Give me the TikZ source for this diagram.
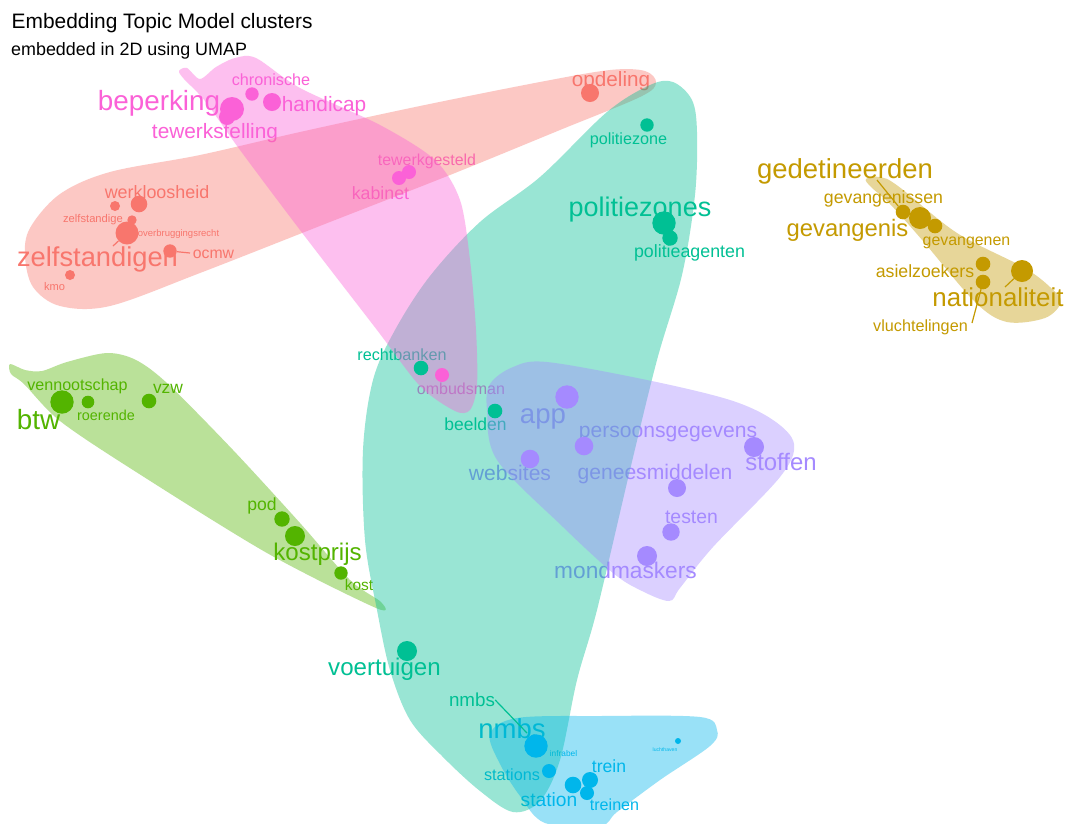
\documentclass[tikz,border=0pt]{standalone}
\usepackage{fontspec}
\setmainfont{Liberation Sans}
\definecolor{cred}{HTML}{F8766D}
\definecolor{cyel}{HTML}{C49A00}
\definecolor{cgreen}{HTML}{53B400}
\definecolor{cteal}{HTML}{00C094}
\definecolor{cblue}{HTML}{00B6EB}
\definecolor{cpurple}{HTML}{A58AFF}
\definecolor{cpink}{HTML}{FB61D7}
\begin{document}
\begin{tikzpicture}[x=1pt,y=-1pt,
  lbl/.style={anchor=base, inner sep=0pt, font=\fontsize{#1pt}{#1pt}\selectfont},
  pnt/.style={circle, inner sep=0pt, minimum size=#1, draw=none},
  hull/.style={fill=#1, fill opacity=0.4, draw=none},
  seg/.style={draw=#1, line width=1.2pt}]
\useasboundingbox[fill=white] (0,0) rectangle (1069,823);

% ---------- titles ----------
\node[lbl=20.9, anchor=base west] (title) at (11.5,28.3) {Embedding Topic Model clusters};
\node[lbl=17.9, anchor=base west] (subtitle) at (11,55) {embedded in 2D using UMAP};

% ---------- word labels (under the hulls) ----------
% cluster 1
\node[lbl=20.7, text=cred] (l-opdeling) at (611,86.7) {opdeling};
\node[lbl=17.9, text=cred] (l-werkloosheid) at (157,198) {werkloosheid};
\node[lbl=11.2, text=cred] (l-zelfstandige) at (93,222.7) {zelfstandige};
\node[lbl=9.5, text=cred] (l-overbrugging) at (178.5,236) {overbruggingsrecht};
\node[lbl=27.3, text=cred] (l-zelfstandigen) at (97.5,266.7) {zelfstandigen};
\node[lbl=15.8, text=cred] (l-ocmw) at (213.5,258) {ocmw};
\node[lbl=11.1, text=cred] (l-kmo) at (54.5,290) {kmo};
% cluster 7
\node[lbl=27.8, text=cpink] (l-beperking) at (159,110.7) {beperking};
\node[lbl=16.2, text=cpink] (l-chronische) at (271,85) {chronische};
\node[lbl=20.8, text=cpink] (l-handicap) at (324,111.7) {handicap};
\node[lbl=20.8, text=cpink] (l-tewerkstelling) at (215,138.3) {tewerkstelling};
\node[lbl=15.9, text=cpink] (l-tewerkgesteld) at (427,165) {tewerkgesteld};
\node[lbl=17.8, text=cpink] (l-kabinet) at (380.5,199.3) {kabinet};
\node[lbl=16, text=cpink] (l-ombudsman) at (461,394) {ombudsman};
% cluster 4
\node[lbl=16.2, text=cteal] (l-politiezone) at (628.5,144) {politiezone};
\node[lbl=27, text=cteal] (l-politiezones) at (640,216) {politiezones};
\node[lbl=17.8, text=cteal] (l-politieagenten) at (689.5,257) {politieagenten};
\node[lbl=16.2, text=cteal] (l-rechtbanken) at (402,360) {rechtbanken};
\node[lbl=17.5, text=cteal] (l-beelden) at (475.5,430.7) {beelden};
\node[lbl=24.1, text=cteal] (l-voertuigen) at (384.5,675) {voertuigen};
\node[lbl=18.8, text=cteal] (l-nmbs-t) at (472,706.7) {nmbs};
% cluster 2
\node[lbl=27.5, text=cyel] (l-gedetineerden) at (845,178.3) {gedetineerden};
\node[lbl=17.7, text=cyel] (l-gevangenissen) at (883.5,203.3) {gevangenissen};
\node[lbl=23.8, text=cyel] (l-gevangenis) at (847.5,236) {gevangenis};
\node[lbl=15.9, text=cyel] (l-gevangenen) at (966.5,245) {gevangenen};
\node[lbl=17.7, text=cyel] (l-asielzoekers) at (925,277.3) {asielzoekers};
\node[lbl=25.9, text=cyel] (l-nationaliteit) at (998,306.7) {nationaliteit};
\node[lbl=16.2, text=cyel] (l-vluchtelingen) at (920.5,331.7) {vluchtelingen};
% cluster 3
\node[lbl=27.8, text=cgreen] (l-btw) at (38.5,429.3) {btw};
\node[lbl=16.1, text=cgreen] (l-vennootschap) at (77.5,390) {vennootschap};
\node[lbl=14.4, text=cgreen] (l-roerende) at (106,420) {roerende};
\node[lbl=17.4, text=cgreen] (l-vzw) at (168,393.3) {vzw};
\node[lbl=17.6, text=cgreen] (l-pod) at (262,510) {pod};
\node[lbl=24.1, text=cgreen] (l-kostprijs) at (317.5,560) {kostprijs};
\node[lbl=15.5, text=cgreen] (l-kost) at (359,590.7) {kost};
% cluster 6
\node[lbl=27.6, text=cpurple] (l-app) at (543,423.3) {app};
\node[lbl=21.1, text=cpurple] (l-persoons) at (668,437.3) {persoonsgegevens};
\node[lbl=21.1, text=cpurple] (l-websites) at (510,480) {websites};
\node[lbl=21.1, text=cpurple] (l-genees) at (655,479) {geneesmiddelen};
\node[lbl=23.9, text=cpurple] (l-stoffen) at (781,470) {stoffen};
\node[lbl=19.4, text=cpurple] (l-testen) at (691.5,523.3) {testen};
\node[lbl=22.7, text=cpurple] (l-mondmaskers) at (625.5,578.3) {mondmaskers};
% cluster 5
\node[lbl=27.5, text=cblue] (l-nmbs) at (512,738.3) {nmbs};
\node[lbl=8.3, text=cblue] (l-infrabel) at (563.5,756.7) {infrabel};
\node[lbl=16.2, text=cblue] (l-stations) at (512,780) {stations};
\node[lbl=17.6, text=cblue] (l-trein) at (609,772.3) {trein};
\node[lbl=19.2, text=cblue] (l-station) at (549,806) {station};
\node[lbl=16.1, text=cblue] (l-treinen) at (614.5,810.7) {treinen};
\node[lbl=5.1, text=cblue] (l-luchthaven) at (665,751.7) {luchthaven};

% ---------- cluster hulls ----------
\fill[hull=cred] plot[smooth cycle, tension=0.55] coordinates {
  (30,228) (60,194) (110,172) (200,155) (300,132) (420,106) (540,82)
  (610,70) (645,71) (656,83) (640,97) (560,130) (450,175) (330,222)
  (200,273) (110,306) (60,306) (33,287) (25,256)};
\fill[hull=cyel] plot[smooth cycle, tension=0.55] coordinates {
  (866,179) (880,177) (898,186) (957,233) (1023,267) (1050,287)
  (1061,302) (1045,318) (1007,322) (975,302) (923,241) (890,204) (871,187)};
\fill[hull=cgreen] plot[smooth cycle, tension=0.5] coordinates {
  (10,364) (25,370) (42,371) (67,362) (107,353) (136,360) (168,384)
  (233,450) (300,523) (350,580) (381,602) (376,608) (267,553)
  (133,470) (60,421) (24,384) (11,374)};
\fill[hull=cteal] plot[smooth cycle, tension=0.55] coordinates {
  (673,82) (692,100) (697,132) (695,195) (682,275) (657,360) (630,470)
  (597,610) (577,680) (560,760) (540,801) (513,812) (480,791) (443,757)
  (410,720) (390,670) (377,610) (365,540) (363,450) (373,380) (395,330)
  (430,276) (480,222) (540,177) (607,112) (650,85)};
\fill[hull=cblue] plot[smooth cycle, tension=0.55] coordinates {
  (490,734) (517,718) (600,716) (700,717) (717,730) (710,746)
  (660,780) (617,812) (600,826) (545,823) (520,796) (500,764)};
\fill[hull=cpurple] plot[smooth cycle, tension=0.55] coordinates {
  (490,384) (513,367) (547,362) (647,380) (730,400) (773,420) (794,444)
  (780,477) (713,547) (680,588) (669,601) (640,590) (613,573)
  (563,527) (497,460) (487,410)};
\fill[hull=cpink] plot[smooth cycle, tension=0.5] coordinates {
  (179,71) (187,68) (200,79) (216,67) (235,58) (256,58) (300,88)
  (380,125) (435,160) (460,200) (470,260) (476,330) (477,385) (470,410)
  (455,411) (420,386) (377,330) (300,230) (240,150) (205,101) (184,79)};

% ---------- points ----------
% cluster 1
\node[pnt=18pt, fill=cred] (p-opdeling) at (590,93) {};
\node[pnt=16.6pt, fill=cred] (p-werkloosheid) at (139,204) {};
\node[pnt=10pt, fill=cred] (p-kmo2) at (115,206) {};
\node[pnt=9.4pt, fill=cred] (p-zelfstandige) at (132,220) {};
\node[pnt=23pt, fill=cred] (p-zelfstandigen) at (127,233) {};
\node[pnt=13.4pt, fill=cred] (p-ocmw) at (170,251) {};
\node[pnt=10pt, fill=cred] (p-kmo) at (70,275) {};
% cluster 2
\node[pnt=14.6pt, fill=cyel] (p-gedetineerden) at (903,212) {};
\node[pnt=22pt, fill=cyel] (p-gevangenis) at (920,218) {};
\node[pnt=14.6pt, fill=cyel] (p-gevangenen) at (935,226) {};
\node[pnt=14.6pt, fill=cyel] (p-asielzoekers) at (983,264) {};
\node[pnt=14.6pt, fill=cyel] (p-vluchtelingen) at (983,282) {};
\node[pnt=22pt, fill=cyel] (p-nationaliteit) at (1022,271) {};
% cluster 3
\node[pnt=23.4pt, fill=cgreen] (p-btw) at (62,402) {};
\node[pnt=12.6pt, fill=cgreen] (p-roerende) at (88,402) {};
\node[pnt=14.6pt, fill=cgreen] (p-vzw) at (149,401) {};
\node[pnt=15.4pt, fill=cgreen] (p-pod) at (282,519) {};
\node[pnt=20pt, fill=cgreen] (p-kostprijs) at (295,536) {};
\node[pnt=13.4pt, fill=cgreen] (p-kost) at (341,573) {};
% cluster 4
\node[pnt=13.4pt, fill=cteal] (p-politiezone) at (647,125) {};
\node[pnt=23.4pt, fill=cteal] (p-politiezones) at (664,223) {};
\node[pnt=15.4pt, fill=cteal] (p-politieagenten) at (670,238) {};
\node[pnt=14.6pt, fill=cteal] (p-rechtbanken) at (421,368) {};
\node[pnt=14.6pt, fill=cteal] (p-beelden) at (495,411) {};
\node[pnt=20pt, fill=cteal] (p-voertuigen) at (407,651) {};
% cluster 5
\node[pnt=23.4pt, fill=cblue] (p-nmbs) at (536,746) {};
\node[pnt=14pt, fill=cblue] (p-stations) at (549,771) {};
\node[pnt=16.6pt, fill=cblue] (p-station) at (573,785) {};
\node[pnt=16pt, fill=cblue] (p-trein) at (590,780) {};
\node[pnt=14pt, fill=cblue] (p-treinen) at (587,793) {};
\node[pnt=6pt, fill=cblue] (p-luchthaven) at (678,741) {};
% cluster 6
\node[pnt=23.4pt, fill=cpurple] (p-app) at (567,397) {};
\node[pnt=18.6pt, fill=cpurple] (p-persoons) at (584,446) {};
\node[pnt=18.6pt, fill=cpurple] (p-websites) at (530,459) {};
\node[pnt=20pt, fill=cpurple] (p-stoffen) at (754,447) {};
\node[pnt=18pt, fill=cpurple] (p-genees) at (677,488) {};
\node[pnt=17.4pt, fill=cpurple] (p-testen) at (671,532) {};
\node[pnt=20pt, fill=cpurple] (p-mondmaskers) at (647,556) {};
% cluster 7
\node[pnt=24pt, fill=cpink] (p-beperking) at (232,109) {};
\node[pnt=16pt, fill=cpink] (p-tewerkstelling) at (227,117) {};
\node[pnt=13.4pt, fill=cpink] (p-chronische) at (252,94) {};
\node[pnt=18pt, fill=cpink] (p-handicap) at (272,102) {};
\node[pnt=14pt, fill=cpink] (p-kabinet) at (399,178) {};
\node[pnt=14pt, fill=cpink] (p-tewerkgesteld) at (409,172) {};
\node[pnt=14pt, fill=cpink] (p-ombudsman) at (442,375) {};

% ---------- label leader segments ----------
\coordinate (s-zelfstandigen) at (113,246);
\coordinate (s-ocmw) at (190,253);
\coordinate (s-gedetineerden) at (877,180);
\coordinate (s-nationaliteit) at (1005,287);
\coordinate (s-vluchtelingen) at (972,323);
\coordinate (s-nmbs) at (527,733);
\draw[seg=cred] (s-zelfstandigen) -- (p-zelfstandigen);
\draw[seg=cred] (p-ocmw) -- (s-ocmw);
\draw[seg=cyel] (s-gedetineerden) -- (p-gedetineerden);
\draw[seg=cyel] (s-nationaliteit) -- (p-nationaliteit);
\draw[seg=cyel] (s-vluchtelingen) -- (p-vluchtelingen);
\draw[seg=cteal] (l-nmbs-t.east) -- (s-nmbs);
\end{tikzpicture}
\end{document}
